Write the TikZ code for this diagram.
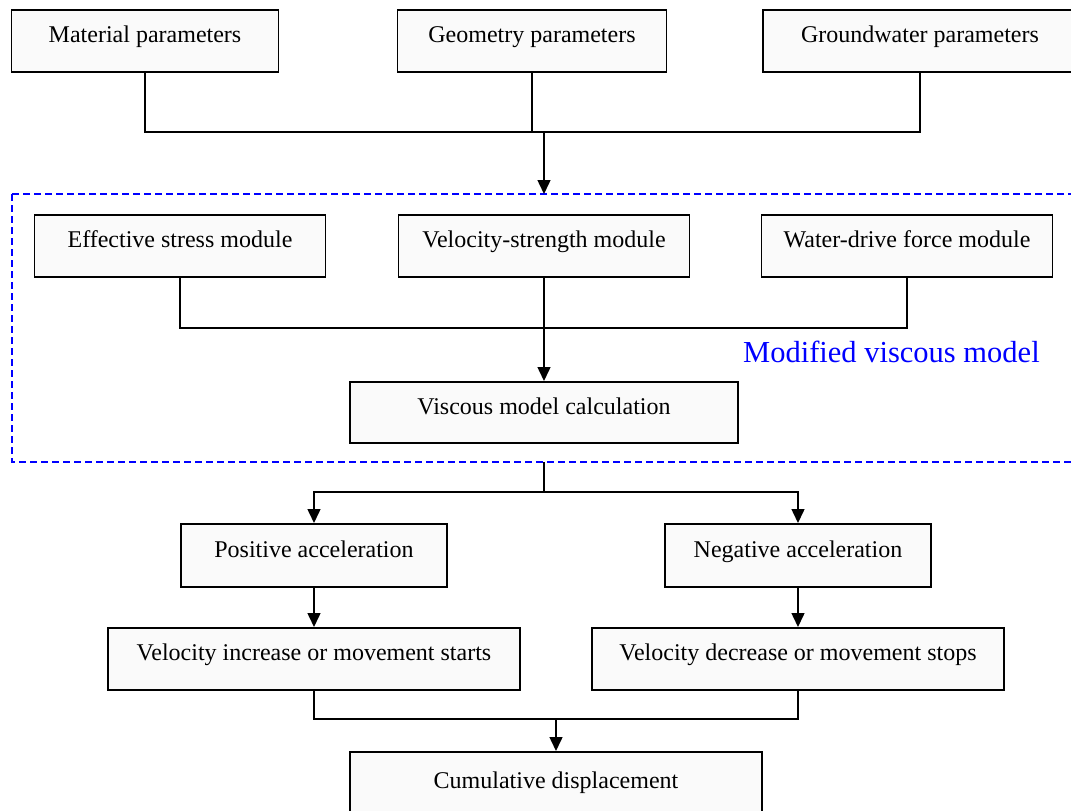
\documentclass[tikz,border=0pt]{standalone}
\usepackage{fontspec}
\setmainfont{Liberation Serif}
\usetikzlibrary{arrows.meta,calc}
\begin{document}
\begin{tikzpicture}[x=1pt,y=-1pt,
  box/.style={draw=black, line width=1.6pt, fill=white!98!black, rectangle,
    inner sep=0pt, minimum height=62pt, text height=16pt, text depth=12pt,
    anchor=north, font=\fontsize{24}{28}\selectfont},
  link/.style={line width=1.5pt},
  arr/.style={link, -{Triangle[length=14pt,width=13pt]}},
  modelframe/.style={draw=blue, line width=2.3pt, dash pattern=on 7pt off 4pt}]
\useasboundingbox (0,0) rectangle (1071,811);

% input parameters
\node[box, minimum width=267pt] (mat) at (145,9) {Material parameters};
\node[box, minimum width=269pt] (geo) at (532,9) {Geometry parameters};
\node[box, minimum width=314pt] (gw)  at (920,9) {Groundwater parameters};

% modified viscous model frame
\coordinate (ftl) at (12,194);
\coordinate (fbr) at (1095,462);
\draw[modelframe] (ftl) rectangle (fbr);
\node[anchor=base west, text=blue, inner sep=0pt,
  font=\fontsize{30.5}{33}\selectfont] (mvm) at (743,362) {Modified viscous model};

% modules
\node[box, minimum width=291pt] (eff)  at (180,214) {Effective stress module};
\node[box, minimum width=291pt] (vel)  at (544,214) {Velocity-strength module};
\node[box, minimum width=291pt] (wdf)  at (907,214) {Water-drive force module};
\node[box, minimum width=388pt, minimum height=61pt] (visc) at (544,381) {Viscous model calculation};

% outcomes
\node[box, minimum width=266pt, minimum height=63pt] (pos) at (314,523) {Positive acceleration};
\node[box, minimum width=266pt, minimum height=63pt] (neg) at (798,523) {Negative acceleration};
\node[box, minimum width=412pt] (vinc) at (314,627) {Velocity increase or movement starts};
\node[box, minimum width=412pt] (vdec) at (798,627) {Velocity decrease or movement stops};
\node[box, minimum width=412pt, minimum height=70pt] (cum) at (556,751) {Cumulative displacement};

% connectors: parameters into the model
\coordinate (j1) at (544,132);
\draw[link] (mat.south) -- (mat.south |- j1) -| (gw.south);
\draw[link] (geo.south) -- (geo.south |- j1);
\draw[arr] (j1) -- (j1 |- ftl);

% connectors: modules into the calculation
\coordinate (j2) at (544,328);
\draw[link] (eff.south) -- (eff.south |- j2) -| (wdf.south);
\draw[arr] (vel.south) -- (visc.north);

% connectors: model to outcomes
\coordinate (j3) at (544,492);
\draw[link] (j3 |- fbr) -- (j3);
\draw[arr] (j3) -| (pos.north);
\draw[arr] (j3) -| (neg.north);
\draw[arr] (pos.south) -- (vinc.north);
\draw[arr] (neg.south) -- (vdec.north);

% connectors: outcomes to displacement
\coordinate (j4) at (556,719);
\draw[link] (vinc.south) |- (j4);
\draw[link] (vdec.south) |- (j4);
\draw[arr] (j4) -- (cum.north);
\end{tikzpicture}
\end{document}
